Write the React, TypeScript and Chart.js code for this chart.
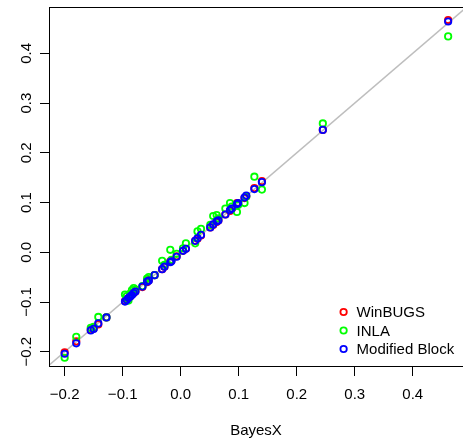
import React, { useEffect, useRef } from "react";
import { Chart, registerables } from "chart.js";

Chart.register(...registerables);

// BayesX estimates (x) and the three alternative estimates (y)
const bayesX = [
  -0.2, -0.18, -0.155, -0.15, -0.142, -0.128, -0.096, -0.093, -0.09, -0.087,
  -0.084, -0.081, -0.078, -0.066, -0.058, -0.055, -0.045, -0.032, -0.028, -0.018,
  -0.016, -0.007, 0.004, 0.009, 0.025, 0.029, 0.035, 0.051, 0.056, 0.062,
  0.065, 0.077, 0.085, 0.088, 0.097, 0.099, 0.11, 0.113, 0.127, 0.14,
  0.245, 0.461,
];
const winBUGS = [
  -0.201, -0.179, -0.156, -0.153, -0.145, -0.131, -0.098, -0.094, -0.092, -0.089,
  -0.085, -0.082, -0.079, -0.07, -0.06, -0.056, -0.046, -0.034, -0.029, -0.018,
  -0.017, -0.008, 0.003, 0.007, 0.023, 0.027, 0.034, 0.05, 0.055, 0.061,
  0.064, 0.076, 0.083, 0.087, 0.099, 0.098, 0.109, 0.112, 0.129, 0.143,
  0.246, 0.467,
];
const inla = [
  -0.212, -0.17, -0.152, -0.15, -0.13, -0.131, -0.085, -0.088, -0.097, -0.083,
  -0.076, -0.072, -0.075, -0.068, -0.053, -0.05, -0.046, -0.017, -0.025, 0.005,
  -0.015, -0.003, 0.008, 0.018, 0.018, 0.042, 0.047, 0.055, 0.073, 0.075,
  0.068, 0.088, 0.099, 0.092, 0.081, 0.095, 0.099, 0.112, 0.152, 0.126,
  0.259, 0.434,
];
const modifiedBlock = [
  -0.204, -0.183, -0.157, -0.154, -0.143, -0.131, -0.099, -0.096, -0.092, -0.089,
  -0.086, -0.082, -0.079, -0.069, -0.059, -0.057, -0.046, -0.034, -0.029, -0.02,
  -0.018, -0.009, 0.003, 0.007, 0.023, 0.028, 0.035, 0.05, 0.056, 0.062,
  0.064, 0.076, 0.085, 0.088, 0.097, 0.099, 0.11, 0.114, 0.127, 0.141,
  0.246, 0.464,
];

const seriesLabels = ["WinBUGS", "INLA", "Modified Block"];
const seriesColors = ["#FF0000", "#00FF00", "#0000FF"];
const identityLine = [-0.3, 0.6];
const xRange = [-0.227, 0.4866];
const yRange = [-0.2306, 0.4931];
const xTitle = "BayesX";

const FONT = "'Liberation Sans', Arial, Helvetica, sans-serif";

function fmt(v: number): string {
  if (Math.abs(v) < 1e-9) return "0.0";
  return Number(v).toFixed(1).replace("-", "\u2212");
}

const boxPlugin = {
  id: "rBox",
  afterDraw(chart: any) {
    const { ctx, chartArea } = chart;
    ctx.save();
    ctx.strokeStyle = "#000";
    ctx.lineWidth = 1;
    ctx.strokeRect(
      chartArea.left + 0.5,
      chartArea.top + 0.5,
      chartArea.right - chartArea.left,
      chartArea.bottom - chartArea.top - 1
    );
    // legend (bottom right, inside the plot)
    const x0 = chartArea.right - 119.4;
    const rowH = 18.5;
    const yStart = chartArea.bottom - 55;
    ctx.font = `15px ${FONT}`;
    ctx.textBaseline = "middle";
    ctx.textAlign = "left";
    seriesLabels.forEach((lab, i) => {
      const y = yStart + i * rowH;
      ctx.beginPath();
      ctx.arc(x0, y, 3.2, 0, Math.PI * 2);
      ctx.strokeStyle = seriesColors[i];
      ctx.lineWidth = 1.8;
      ctx.stroke();
      ctx.fillStyle = "#000";
      ctx.fillText(lab, x0 + 13, y + 1);
    });
    ctx.restore();
  },
};

export default function App() {
  const ref = useRef<HTMLCanvasElement | null>(null);
  useEffect(() => {
    if (!ref.current) return;
    const mk = (ys: number[]) => bayesX.map((x, i) => ({ x, y: ys[i] }));
    const pointDs = (i: number, ys: number[], order: number) => ({
      label: seriesLabels[i],
      data: mk(ys),
      borderColor: seriesColors[i],
      backgroundColor: "rgba(0,0,0,0)",
      pointRadius: 3.2,
      pointBorderWidth: 1.8,
      pointHoverRadius: 3.2,
      showLine: false,
      order,
    });
    const chart = new Chart(ref.current, {
      type: "scatter",
      data: {
        datasets: [
          pointDs(0, winBUGS, 2),
          pointDs(1, inla, 1),
          pointDs(2, modifiedBlock, 0),
          {
            label: "identity",
            data: identityLine.map((v) => ({ x: v, y: v })),
            showLine: true,
            borderColor: "#BEBEBE",
            borderWidth: 1.6,
            pointRadius: 0,
            order: 3,
          } as any,
        ],
      },
      plugins: [boxPlugin],
      options: {
        animation: false,
        responsive: false,
        devicePixelRatio: 1,
        layout: { padding: { top: 7, right: 3.6, left: 0, bottom: 0 } },
        plugins: { legend: { display: false }, tooltip: { enabled: false } },
        scales: {
          x: {
            type: "linear",
            min: xRange[0],
            max: xRange[1],
            border: { display: false },
            grid: {
              display: true,
              drawOnChartArea: false,
              drawTicks: true,
              tickLength: 9,
              color: "#000",
              tickColor: "#000",
            },
            ticks: {
              stepSize: 0.1,
              includeBounds: false,
              autoSkip: false,
              maxRotation: 0,
              minRotation: 0,
              padding: 10,
              color: "#000",
              font: { family: FONT, size: 15 },
              callback: (v: any) => fmt(Number(v)),
            },
            title: {
              display: true,
              text: xTitle,
              color: "#000",
              font: { family: FONT, size: 15 },
              padding: { top: 0, bottom: 3 },
            },
            afterFit: (s: any) => {
              s.height = 76;
              s.paddingLeft = 0;
              s.paddingRight = 0;
            },
          },
          y: {
            type: "linear",
            min: yRange[0],
            max: yRange[1],
            border: { display: false },
            grid: {
              display: true,
              drawOnChartArea: false,
              drawTicks: true,
              tickLength: 9,
              color: "#000",
              tickColor: "#000",
            },
            ticks: {
              stepSize: 0.1,
              includeBounds: false,
              autoSkip: false,
              minRotation: 90,
              maxRotation: 90,
              crossAlign: "center",
              padding: -2,
              color: "#000",
              font: { family: FONT, size: 15 },
              callback: (v: any) => fmt(Number(v)),
            },
            afterFit: (s: any) => {
              s.width = 49;
              s.paddingTop = 0;
              s.paddingBottom = 0;
            },
          },
        },
      } as any,
    });
    return () => chart.destroy();
  }, []);
  return (
    <div
      style={{
        position: "fixed",
        left: 0,
        top: 0,
        width: 463,
        height: 443,
        overflow: "hidden",
        background: "#fff",
      }}
    >
      <canvas ref={ref} width={468} height={443} style={{ display: "block" }} />
    </div>
  );
}
